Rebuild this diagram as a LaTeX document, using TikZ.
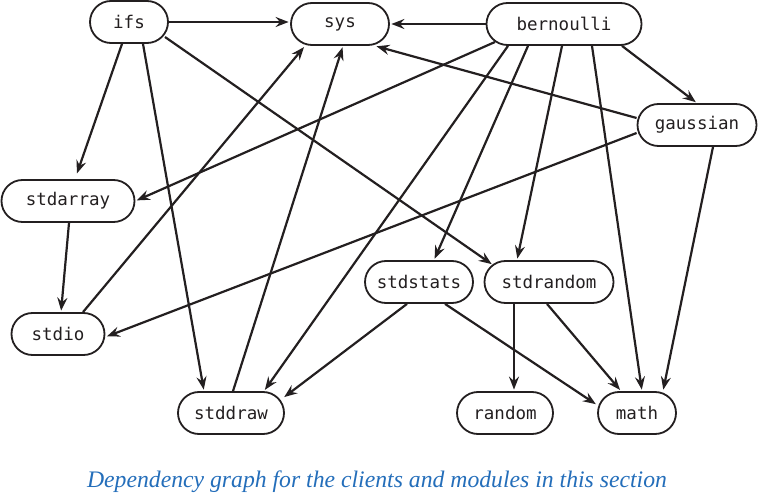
\documentclass[tikz,border=0pt]{standalone}
\usepackage{fontspec}
\usepackage{xcolor}
\usetikzlibrary{arrows.meta}
\newfontfamily\codefont{DejaVu Sans Mono}
\newfontfamily\capfont{Liberation Serif}
\definecolor{ink}{RGB}{35,31,32}
\definecolor{capblue}{RGB}{36,110,186}

\begin{document}
\begin{tikzpicture}[x=1pt, y=-1pt,
  mod/.style={draw=ink, line width=1.8pt, rounded corners=21pt, minimum height=42pt,
              inner sep=0pt, text=ink, font=\codefont\fontsize{17.5}{17.5}\selectfont},
  dep/.style={draw=ink, line width=2.2pt, shorten >=1.5pt,
              -{Stealth[length=13pt, width=10pt, inset=4.5pt]}}]
\useasboundingbox (0,0) rectangle (758,497);
% modules
\node[mod, minimum width=78pt]  (ifs)       at (129,22)  {ifs};
\node[mod, minimum width=98pt]  (sys)       at (340,24)  {sys};
\node[mod, minimum width=155pt] (bernoulli) at (564,24)  {bernoulli};
\node[mod, minimum width=119pt] (gaussian)  at (697,125) {gaussian};
\node[mod, minimum width=133pt] (stdarray)  at (68,201)  {stdarray};
\node[mod, minimum width=93pt]  (stdio)     at (58,334)  {stdio};
\node[mod, minimum width=108pt] (stdstats)  at (419,282) {stdstats};
\node[mod, minimum width=129pt] (stdrandom) at (549,282) {stdrandom};
\node[mod, minimum width=106pt] (stddraw)   at (231,413) {stddraw};
\node[mod, minimum width=96pt]  (random)    at (505,413) {random};
\node[mod, minimum width=78pt]  (math)      at (637,413) {math};
% dependencies
\draw[dep] (ifs.east) -- (ifs.east -| sys.west);
\draw[dep, shorten >=6pt] ([xshift=-7]ifs.south) -- ([xshift=7]stdarray.north);
\draw[dep] ([xshift=14]ifs.south) -- ([xshift=-27]stddraw.north);
\draw[dep] ([shift={(36,15)}]ifs.center) -- ([shift={(-56,-17)}]stdrandom.center);
\draw[dep] (bernoulli.west) -- (sys.east);
\draw[dep] ([shift={(-69,18)}]bernoulli.center) -- (stdarray.east);
\draw[dep] ([xshift=58]bernoulli.south) -- (gaussian.north);
\draw[dep] ([xshift=-56]bernoulli.south) -- ([xshift=33]stddraw.north);
\draw[dep] ([xshift=-36]bernoulli.south) -- ([xshift=15]stdstats.north);
\draw[dep] ([xshift=-2]bernoulli.south) -- ([xshift=-32]stdrandom.north);
\draw[dep] ([xshift=28]bernoulli.south) -- ([xshift=5]math.north);
\draw[dep] ([shift={(0,-7)}]gaussian.west) -- ([xshift=35]sys.south);
\draw[dep] ([shift={(0,8)}]gaussian.west) -- ([shift={(0,3)}]stdio.east);
\draw[dep] ([xshift=16]gaussian.south) -- ([xshift=26]math.north);
\draw[dep] ([xshift=1]stdarray.south) -- ([xshift=3]stdio.north);
\draw[dep] ([xshift=25]stdio.north) -- ([xshift=-35]sys.south);
\draw[dep] ([xshift=2]stddraw.north) -- ([xshift=3]sys.south);
\draw[dep] ([xshift=-12]stdstats.south) -- ([shift={(52,-15)}]stddraw.center);
\draw[dep] ([xshift=26]stdstats.south) -- ([shift={(0,-8)}]math.west);
\draw[dep] ([xshift=-35]stdrandom.south) -- ([xshift=9]random.north);
\draw[dep] ([xshift=-2]stdrandom.south) -- ([xshift=-16]math.north);
% caption
\node[text=capblue, font=\capfont\itshape\fontsize{23.7}{23.7}\selectfont] (caption) at (377,482)
  {Dependency graph for the clients and modules in this section};
\end{tikzpicture}
\end{document}
